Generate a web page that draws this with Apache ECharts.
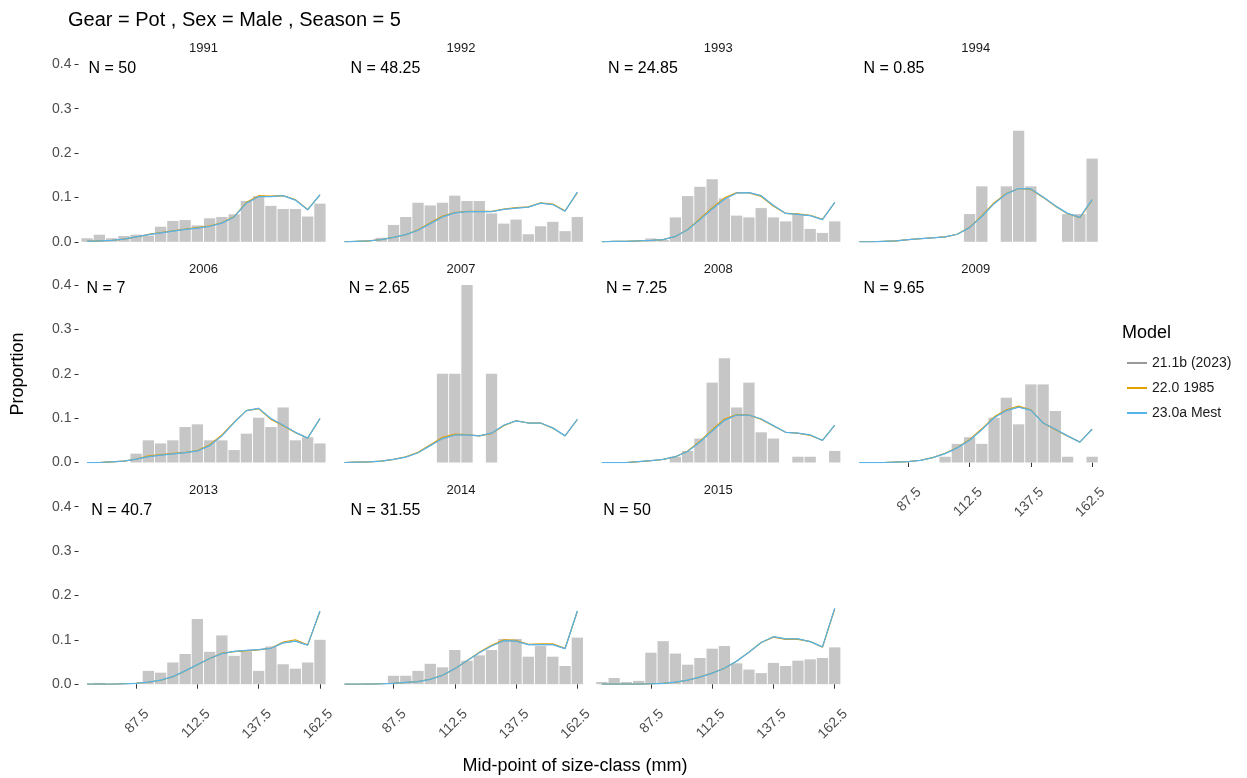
<!DOCTYPE html>
<html>
<head>
<meta charset="utf-8">
<script src="https://cdn.jsdelivr.net/npm/echarts@6/dist/echarts.min.js"></script>
<style>
    html, body { margin: 0; padding: 0; background: #ffffff; }
    #main { width: 1247px; height: 778px; }
</style>
</head>
<body>
<div id="main"></div>
<script>
"use strict";

// size-class mid-points (mm)
var sizeClasses = [67.5, 72.5, 77.5, 82.5, 87.5, 92.5, 97.5, 102.5, 107.5, 112.5,
    117.5, 122.5, 127.5, 132.5, 137.5, 142.5, 147.5, 152.5, 157.5, 162.5];
var xTickValues = [87.5, 112.5, 137.5, 162.5];

var years = ["1991", "1992", "1993", "1994", "2006", "2007", "2008", "2009", "2013", "2014", "2015"];
var sampleSizes = ["50", "48.25", "24.85", "0.85", "7", "2.65", "7.25", "9.65", "40.7", "31.55", "50"];

var modelNames = ["21.1b (2023)", "22.0 1985", "23.0a Mest"];
var modelColors = ["#999999", "#E69F00", "#56B4E9"];

// observed proportions
var obs1991 = [0.008, 0.016, 0.008, 0.013, 0.016, 0.014, 0.034, 0.047, 0.049, 0.037, 0.053, 0.056, 0.062, 0.092, 0.103, 0.081, 0.074, 0.074, 0.057, 0.086];
var obs1992 = [0, 0, 0, 0.009, 0.038, 0.056, 0.088, 0.082, 0.088, 0.104, 0.092, 0.092, 0.064, 0.041, 0.050, 0.017, 0.035, 0.045, 0.024, 0.056];
var obs1993 = [0, 0, 0, 0, 0.0075, 0.004, 0.055, 0.103, 0.124, 0.141, 0.098, 0.059, 0.055, 0.076, 0.055, 0.046, 0.062, 0.029, 0.020, 0.046];
var obs1994 = [0, 0, 0, 0, 0, 0, 0, 0, 0, 0.0625, 0.125, 0, 0.125, 0.25, 0.125, 0, 0, 0.0625, 0.0625, 0.1875];
var obs2006 = [0, 0, 0, 0, 0.020, 0.050, 0.043, 0.050, 0.080, 0.086, 0.050, 0.050, 0.028, 0.065, 0.101, 0.080, 0.124, 0.050, 0.057, 0.043];
var obs2007 = [0, 0, 0, 0, 0, 0, 0, 0, 0.2, 0.2, 0.4, 0, 0.2, 0, 0, 0, 0, 0, 0, 0];
var obs2008 = [0, 0, 0, 0, 0, 0, 0.013, 0.026, 0.054, 0.180, 0.235, 0.124, 0.180, 0.068, 0.054, 0, 0.013, 0.013, 0, 0.026];
var obs2009 = [0, 0, 0, 0, 0, 0, 0, 0.013, 0.042, 0.057, 0.042, 0.101, 0.146, 0.086, 0.176, 0.176, 0.116, 0.013, 0, 0.013];
var obs2013 = [0, 0.003, 0, 0, 0, 0.030, 0.026, 0.049, 0.068, 0.147, 0.073, 0.110, 0.064, 0.074, 0.030, 0.085, 0.045, 0.035, 0.049, 0.100];
var obs2014 = [0, 0, 0.002, 0, 0.019, 0.019, 0.030, 0.046, 0.038, 0.077, 0.053, 0.065, 0.077, 0.102, 0.102, 0.062, 0.086, 0.062, 0.041, 0.105];
var obs2015 = [0.005, 0.014, 0.005, 0.0075, 0.071, 0.097, 0.069, 0.044, 0.059, 0.080, 0.086, 0.047, 0.033, 0.025, 0.048, 0.041, 0.053, 0.056, 0.059, 0.083];

// model 23.0a Mest (21.1b (2023) sits exactly underneath it)
var mest1991 = [0.001, 0.002, 0.003, 0.006, 0.011, 0.016, 0.020, 0.024, 0.028, 0.031, 0.035, 0.042, 0.056, 0.087, 0.102, 0.102, 0.104, 0.094, 0.072, 0.106];
var mest1992 = [0, 0.001, 0.002, 0.005, 0.010, 0.016, 0.026, 0.041, 0.056, 0.065, 0.068, 0.068, 0.068, 0.073, 0.076, 0.078, 0.087, 0.084, 0.069, 0.112];
var mest1993 = [0, 0.001, 0.001, 0.002, 0.003, 0.005, 0.012, 0.027, 0.050, 0.074, 0.096, 0.110, 0.111, 0.104, 0.082, 0.064, 0.062, 0.059, 0.050, 0.089];
var mest1994 = [0, 0, 0.001, 0.002, 0.005, 0.007, 0.009, 0.011, 0.017, 0.032, 0.057, 0.086, 0.108, 0.120, 0.119, 0.101, 0.081, 0.064, 0.055, 0.095];
var mest2006 = [0, 0, 0.0015, 0.003, 0.0075, 0.013, 0.0165, 0.0195, 0.022, 0.026, 0.038, 0.060, 0.090, 0.117, 0.122, 0.099, 0.084, 0.068, 0.055, 0.099];
var mest2007 = [0, 0.001, 0.0015, 0.003, 0.007, 0.012, 0.022, 0.038, 0.054, 0.062, 0.062, 0.060, 0.066, 0.084, 0.094, 0.089, 0.089, 0.078, 0.060, 0.097];
var mest2008 = [0, 0, 0, 0.002, 0.004, 0.007, 0.013, 0.025, 0.046, 0.071, 0.095, 0.107, 0.107, 0.098, 0.083, 0.068, 0.066, 0.062, 0.050, 0.084];
var mest2009 = [0, 0, 0, 0.001, 0.002, 0.005, 0.011, 0.020, 0.033, 0.050, 0.074, 0.101, 0.117, 0.125, 0.118, 0.089, 0.075, 0.060, 0.046, 0.075];
var mest2013 = [0, 0, 0, 0.001, 0.002, 0.0045, 0.009, 0.017, 0.030, 0.044, 0.058, 0.069, 0.074, 0.076, 0.078, 0.081, 0.093, 0.097, 0.088, 0.165];
var mest2014 = [0, 0, 0, 0.001, 0.002, 0.004, 0.006, 0.011, 0.020, 0.035, 0.053, 0.071, 0.086, 0.098, 0.097, 0.089, 0.089, 0.089, 0.080, 0.165];
var mest2015 = [0, 0, 0, 0, 0.001, 0.002, 0.0045, 0.009, 0.016, 0.025, 0.036, 0.052, 0.072, 0.094, 0.107, 0.102, 0.102, 0.096, 0.084, 0.171];

// model 22.0 1985
var y1985_1991 = [0.001, 0.002, 0.003, 0.006, 0.011, 0.017, 0.021, 0.025, 0.029, 0.032, 0.036, 0.043, 0.057, 0.089, 0.104, 0.103, 0.104, 0.095, 0.073, 0.105];
var y1985_1992 = [0, 0.001, 0.002, 0.005, 0.010, 0.016, 0.027, 0.043, 0.058, 0.066, 0.069, 0.069, 0.069, 0.074, 0.077, 0.079, 0.088, 0.085, 0.070, 0.110];
var y1985_1993 = [0, 0.001, 0.001, 0.002, 0.003, 0.005, 0.012, 0.028, 0.052, 0.077, 0.099, 0.111, 0.110, 0.102, 0.080, 0.064, 0.063, 0.060, 0.051, 0.088];
var y1985_1994 = [0, 0, 0.001, 0.002, 0.005, 0.007, 0.009, 0.011, 0.017, 0.033, 0.059, 0.088, 0.109, 0.120, 0.118, 0.100, 0.080, 0.063, 0.054, 0.094];
var y1985_2006 = [0, 0, 0.0015, 0.003, 0.008, 0.015, 0.018, 0.021, 0.023, 0.027, 0.040, 0.062, 0.091, 0.117, 0.121, 0.097, 0.083, 0.067, 0.055, 0.099];
var y1985_2007 = [0, 0.001, 0.0015, 0.003, 0.007, 0.013, 0.023, 0.040, 0.057, 0.064, 0.063, 0.060, 0.065, 0.083, 0.094, 0.089, 0.089, 0.077, 0.060, 0.097];
var y1985_2008 = [0, 0, 0, 0.002, 0.004, 0.007, 0.013, 0.026, 0.048, 0.074, 0.098, 0.108, 0.107, 0.097, 0.082, 0.068, 0.066, 0.061, 0.050, 0.084];
var y1985_2009 = [0, 0, 0, 0.001, 0.002, 0.005, 0.011, 0.021, 0.034, 0.052, 0.076, 0.103, 0.119, 0.127, 0.119, 0.089, 0.074, 0.059, 0.046, 0.075];
var y1985_2013 = [0, 0, 0, 0.001, 0.002, 0.0045, 0.009, 0.017, 0.030, 0.044, 0.058, 0.070, 0.073, 0.075, 0.077, 0.081, 0.095, 0.100, 0.089, 0.163];
var y1985_2014 = [0, 0, 0, 0.001, 0.002, 0.004, 0.006, 0.011, 0.020, 0.035, 0.053, 0.072, 0.088, 0.100, 0.099, 0.090, 0.091, 0.091, 0.081, 0.163];
var y1985_2015 = [0, 0, 0, 0, 0.001, 0.002, 0.0045, 0.009, 0.016, 0.025, 0.036, 0.052, 0.072, 0.094, 0.106, 0.101, 0.101, 0.096, 0.083, 0.169];

var observed = [obs1991, obs1992, obs1993, obs1994, obs2006, obs2007, obs2008, obs2009, obs2013, obs2014, obs2015];
var fitMest = [mest1991, mest1992, mest1993, mest1994, mest2006, mest2007, mest2008, mest2009, mest2013, mest2014, mest2015];
var fit1985 = [y1985_1991, y1985_1992, y1985_1993, y1985_1994, y1985_2006, y1985_2007, y1985_2008, y1985_2009, y1985_2013, y1985_2014, y1985_2015];
var fit2023 = fitMest;
var modelFits = [fit2023, fit1985, fitMest];
var modelWidths = [1, 1.1, 1.25];

var FONT = "'Liberation Sans', Arial, sans-serif";
var chart = echarts.init(document.getElementById("main"), null, {renderer: "canvas"});

var nCols = 4;
var panelLeft0 = 78.5;
var panelStepX = 257.4;
var panelW = 250;
var rowTops = [64.3, 285, 506.7];
var panelH = 177.5;

var measureCtx = document.createElement("canvas").getContext("2d");
function textWidth(str, size) {
    measureCtx.font = size + "px " + FONT;
    return measureCtx.measureText(str).width;
}

function pairs(values) {
    return sizeClasses.map(function (x, k) {
        return [x, values[k]];
    });
}

var grids = [], xAxes = [], yAxes = [], series = [], graphics = [];

years.forEach(function (year, i) {
    var col = i % nCols;
    var row = Math.floor(i / nCols);
    var left = panelLeft0 + col * panelStepX;
    var top = rowTops[row];
    var showX = i + nCols >= years.length;
    var showY = col === 0;

    grids.push({left: left, top: top, width: panelW, height: panelH});

    xAxes.push({
        type: "value",
        gridIndex: i,
        min: 64,
        max: 166,
        offset: 9,
        axisLine: {show: false},
        splitLine: {show: false},
        axisTick: {show: showX, length: 4.5, lineStyle: {color: "#333333"}, customValues: xTickValues},
        axisLabel: {
            show: showX, rotate: 45, margin: 8, color: "#4d4d4d", fontSize: 14, fontFamily: FONT,
            align: "right", verticalAlign: "top", padding: [8, 0, 0, 0],
            customValues: xTickValues
        }
    });
    yAxes.push({
        type: "value",
        gridIndex: i,
        min: 0,
        max: 0.4,
        interval: 0.1,
        axisLine: {show: false},
        splitLine: {show: false},
        axisTick: {show: showY, length: 4, lineStyle: {color: "#333333"}},
        axisLabel: {
            show: showY, margin: 7, color: "#4d4d4d", fontSize: 14, fontFamily: FONT,
            formatter: function (v) { return v.toFixed(1); }
        }
    });

    series.push({
        type: "bar",
        xAxisIndex: i,
        yAxisIndex: i,
        barWidth: 11.3,
        silent: true,
        itemStyle: {color: "#c6c6c6"},
        data: pairs(observed[i])
    });
    modelNames.forEach(function (name, m) {
        series.push({
            type: "line",
            name: name,
            xAxisIndex: i,
            yAxisIndex: i,
            showSymbol: false,
            symbol: "none",
            silent: true,
            color: modelColors[m],
            lineStyle: {width: modelWidths[m], color: modelColors[m]},
            z: 3 + m,
            data: pairs(modelFits[m][i])
        });
    });

    // strip label
    graphics.push({
        type: "text",
        x: left + panelW / 2,
        y: top - 16,
        style: {text: year, fontSize: 13, fontFamily: FONT, fill: "#1a1a1a", align: "center", verticalAlign: "middle"}
    });
    // sample size
    var nText = "N = " + sampleSizes[i];
    graphics.push({
        type: "text",
        x: left + 0.21 * textWidth(nText, 16),
        y: top + 4,
        style: {text: nText, fontSize: 16, fontFamily: FONT, fill: "#000000", align: "left", verticalAlign: "middle"}
    });
});

graphics.push({
    type: "text", x: 68, y: 20,
    style: {text: "Gear = Pot , Sex = Male , Season = 5", fontSize: 20, fontFamily: FONT, fill: "#000000", verticalAlign: "middle"}
});
graphics.push({
    type: "text", x: 575, y: 766,
    style: {text: "Mid-point of size-class (mm)", fontSize: 18, fontFamily: FONT, fill: "#000000", align: "center", verticalAlign: "middle"}
});
graphics.push({
    type: "text", x: 18, y: 374, rotation: Math.PI / 2,
    style: {text: "Proportion", fontSize: 18, fontFamily: FONT, fill: "#000000", align: "center", verticalAlign: "middle"}
});
graphics.push({
    type: "text", x: 1122, y: 333,
    style: {text: "Model", fontSize: 18, fontFamily: FONT, fill: "#000000", verticalAlign: "middle"}
});

var option = {
    animation: false,
    backgroundColor: "#ffffff",
    grid: grids,
    xAxis: xAxes,
    yAxis: yAxes,
    series: series,
    legend: {
        data: modelNames,
        orient: "vertical",
        left: 1127,
        top: 356,
        padding: 0,
        itemWidth: 20,
        itemHeight: 2,
        itemGap: 11,
        icon: "rect",
        selectedMode: false,
        textStyle: {fontSize: 14, fontFamily: FONT, color: "#1a1a1a"}
    },
    graphic: graphics
};
chart.setOption(option);
</script>
</body>
</html>
